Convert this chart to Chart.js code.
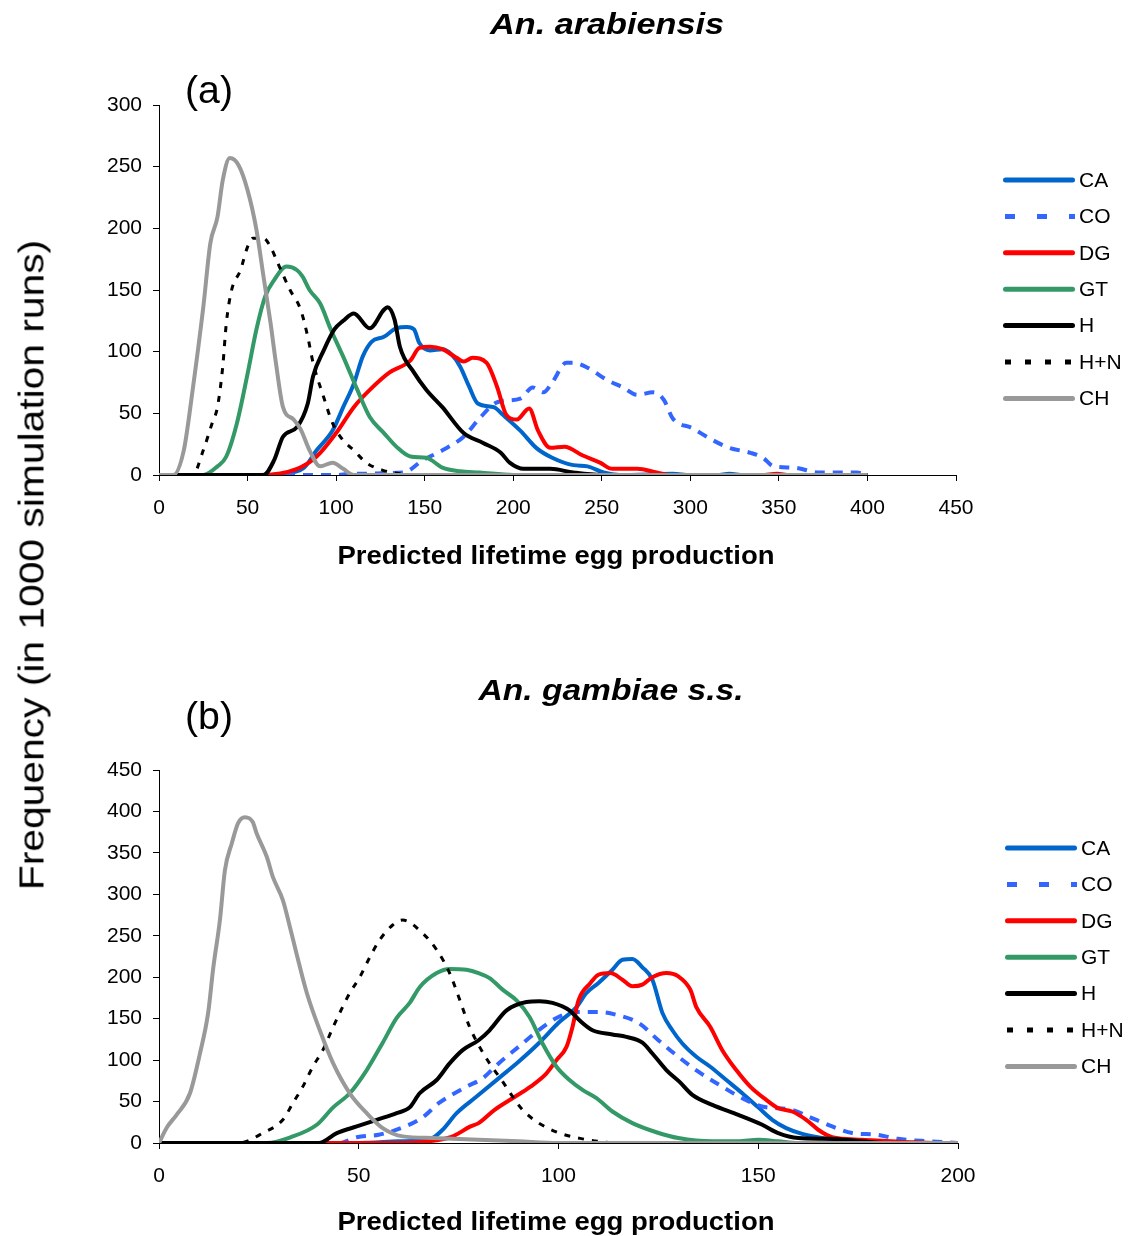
<!DOCTYPE html>
<html>
<head>
<meta charset="utf-8">
<script src="https://cdn.jsdelivr.net/npm/chart.js@4.4.1/dist/chart.umd.min.js"></script>
<style>
  html, body { margin: 0; padding: 0; background: #fff; }
  #wrap { position: relative; width: 1140px; height: 1236px; overflow: hidden; }
  canvas { position: absolute; left: 0; }
  #chartA { top: 0; }
  #chartB { top: 600px; }
  #yTitle {
    position: absolute; left: 31px; top: 565px;
    font: 35px 'Liberation Sans', Arial, sans-serif;
    white-space: nowrap; line-height: 1;
  }
</style>
</head>
<body>
<div id="wrap">
  <canvas id="chartA" width="1140" height="600"></canvas>
  <canvas id="chartB" width="1140" height="636"></canvas>
  <div id="yTitle">Frequency (in 1000 simulation runs)</div>
</div>
<script>
// series names, in legend order
const SERIES = ['CA', 'CO', 'DG', 'GT', 'H', 'H+N', 'CH'];

// tick labels
const X_TICKS_A = [0, 50, 100, 150, 200, 250, 300, 350, 400, 450];
const Y_TICKS_A = [0, 50, 100, 150, 200, 250, 300];
const X_TICKS_B = [0, 50, 100, 150, 200];
const Y_TICKS_B = [0, 50, 100, 150, 200, 250, 300, 350, 400, 450];

// (a) An. arabiensis : [lifetime eggs, frequency]
const arabCA = [[0,0],[60,0],[75,2],[82,6],[89,20],[98,36],[104,55],[110,74],[115,96],[120,108],[127,112],[134,119],[140,120],[144,118],[147,107],[153,101],[160,102],[165,98],[170,88],[175,72],[180,58],[189,55],[194,49],[204,36],[213,22],[222,14],[234,8],[242,7],[251,2],[260,0],[290,1],[300,0],[315,0],[322,1],[330,0],[400,0]];
const arabCO = [[0,0],[100,0],[108,1],[138,2],[149,12],[160,20],[172,31],[181,46],[191,59],[204,62],[211,71],[217,67],[222,75],[230,91],[234,91],[242,87],[253,77],[262,71],[270,65],[279,67],[285,61],[290,46],[301,38],[313,28],[322,22],[334,18],[341,14],[347,7],[358,6],[373,2],[394,2],[400,0]];
const arabDG = [[0,0],[57,0],[78,5],[89,15],[100,34],[110,55],[119,69],[130,83],[142,93],[147,103],[153,104],[160,102],[168,95],[172,92],[177,95],[185,91],[191,71],[196,49],[202,45],[209,54],[214,36],[221,22],[229,23],[239,16],[249,10],[256,5],[270,5],[281,2],[288,0],[340,0],[349,1],[356,0],[400,0]];
const arabGT = [[0,0],[25,0],[33,7],[38,15],[44,42],[50,82],[55,118],[60,145],[65,158],[72,169],[78,166],[81,161],[85,150],[91,139],[97,118],[104,96],[112,69],[119,47],[127,34],[134,23],[142,15],[151,14],[160,6],[170,3],[181,2],[200,0],[400,0]];
const arabH  = [[0,0],[59,0],[65,12],[70,31],[78,39],[84,58],[87,80],[93,101],[99,118],[104,125],[110,131],[119,119],[127,134],[129,136],[133,126],[136,104],[144,83],[151,69],[160,55],[172,34],[183,26],[193,18],[198,10],[206,5],[221,5],[234,2],[250,0],[400,0]];
const arabHN = [[0,0],[19,0],[25,20],[30,42],[33,55],[36,88],[38,123],[41,150],[46,166],[50,185],[53,192],[59,192],[63,185],[67,172],[74,150],[80,134],[84,112],[87,91],[93,63],[98,42],[104,28],[110,20],[117,10],[126,4],[136,1],[145,0],[400,0]];
const arabCH = [[0,0],[8,0],[14,20],[19,69],[25,136],[29,188],[33,209],[36,239],[40,257],[45,251],[50,231],[55,199],[59,161],[63,123],[66,91],[70,55],[76,45],[80,37],[85,20],[91,7],[98,10],[104,5],[110,0],[400,0]];

// (b) An. gambiae s.s.
const gambCA = [[0,0],[50,0],[60,2],[68,5],[71,16],[74.5,36],[79.5,56],[85,78],[90,98],[95,120],[100,145],[104.5,164],[107,181],[110,193],[113.5,209],[116,221],[118.5,222],[121,212],[123.5,197],[126,157],[128.5,136],[131,120],[134.5,104],[138,92],[142,76],[146,60],[150,43],[153.5,28],[157,18],[161,11],[166,6],[173,2],[180,0],[200,0]];
const gambCO = [[0,0],[45,0],[49.5,7],[55,10],[59.5,16],[66,31],[70,48],[77,68],[81,78],[85,96],[90,116],[95,136],[100,152],[105,158],[110,158],[115,154],[120,145],[125,124],[130,104],[135,86],[141,68],[146,54],[151,44],[158.5,40],[163,31],[168.5,20],[173.5,12],[179.5,10],[185,5],[193,2],[200,0]];
const gambDG = [[0,0],[60,0],[65,1],[73,7],[78,20],[80,24],[84,40],[88.5,54],[93,68],[97,84],[99.5,100],[102,116],[103.5,140],[105,172],[108,193],[110,203],[113,205],[116,197],[118.5,189],[121,191],[123.5,200],[127,205],[130,201],[133,185],[134.5,164],[138,140],[141,112],[144.5,88],[148,68],[152,52],[155,42],[158.5,38],[162,28],[165,16],[168.5,7],[176,4],[188,1],[195,0],[200,0]];
const gambGT = [[0,0],[27,0],[33,7],[39.5,22],[43.6,43],[47.75,60],[52,88],[56,121],[59.5,151],[62.75,169],[65.25,188],[69.5,205],[72.75,210],[77,209],[80,205],[82.75,199],[86,185],[89.5,172],[92.75,152],[96,120],[99.5,92],[102.75,76],[106,64],[109.5,54],[113.5,38],[118.5,24],[124.5,13],[130,6],[138.5,2],[145,2],[150,4],[155,2],[160,0],[200,0]];
const gambH  = [[0,0],[40,0],[44.5,12],[49.5,20],[54.5,28],[59.5,36],[62.75,43],[65.25,60],[69.5,76],[72.75,96],[76,112],[80,124],[82.75,136],[87,160],[92,170],[95.25,171],[98.5,169],[102.75,160],[105.25,148],[108.5,136],[113.5,131],[117,128],[121,121],[123.5,108],[127,88],[130.25,74],[133.5,58],[138.5,46],[145,34],[151,22],[155,12],[160,6],[168,5],[176,2],[182,0],[200,0]];
const gambHN = [[0,0],[20,0],[26,12],[31,28],[33.5,48],[36,68],[38.5,92],[41,112],[43.6,140],[45.25,157],[47.75,181],[50.25,200],[52.75,224],[55.25,245],[58.5,263],[61,269],[66,253],[69.5,233],[72.75,205],[75.25,173],[77.75,140],[80.25,116],[82.75,96],[85.75,76],[88.5,56],[91,40],[94.75,25],[100.25,12],[106,5],[110,2],[115,0],[200,0]];
const gambCH = [[0,0],[2,19],[4.4,34],[7.75,60],[10.25,108],[12.3,157],[13.6,212],[15.25,269],[16.5,329],[18.25,362],[19.8,386],[21.5,393],[23.5,387],[24.4,374],[27,345],[28.5,321],[31,293],[32.75,261],[34.4,229],[37,181],[40.25,136],[43.6,96],[47.75,60],[52,36],[56,18],[61,8],[68.5,6],[80,4],[90,2],[100,0],[200,0]];

const STYLES = {
  'CA':  { color: '#0066CC', width: 4 },
  'CO':  { color: '#3366FF', width: 4, dash: [10, 8], legendDash: [10, 22] },
  'DG':  { color: '#FF0000', width: 4 },
  'GT':  { color: '#339966', width: 4 },
  'H':   { color: '#000000', width: 4 },
  'H+N': { color: '#000000', width: 3, dash: [6, 8], legendDash: [6, 14] },
  'CH':  { color: '#999999', width: 4 },
};

const FONT = "'Liberation Sans', Arial, sans-serif";

function stretchText(ctx, text, cx, cy, font, width) {
  ctx.save();
  ctx.font = font;
  const w = ctx.measureText(text).width;
  ctx.translate(cx, cy);
  ctx.scale(width / w, 1);
  ctx.textAlign = 'center';
  ctx.textBaseline = 'middle';
  ctx.fillStyle = '#000';
  ctx.fillText(text, 0, 0);
  ctx.restore();
}

const decorPlugin = {
  id: 'decor',
  afterDraw(chart, args, o) {
    const ctx = chart.ctx;
    stretchText(ctx, o.title, o.titleX, o.titleY, 'italic bold 29px ' + FONT, o.titleW);
    stretchText(ctx, o.tag, 209, o.tagY, '38px ' + FONT, 48);
    stretchText(ctx, 'Predicted lifetime egg production', 556, o.xTitleY, 'bold 25px ' + FONT, 437);

    SERIES.forEach((name, i) => {
      const st = STYLES[name];
      const y = o.legY + i * 36.4;
      ctx.save();
      ctx.strokeStyle = st.color;
      ctx.lineWidth = 5;
      ctx.lineCap = st.legendDash ? 'butt' : 'round';
      ctx.setLineDash(st.legendDash || []);
      ctx.beginPath();
      ctx.moveTo(o.legX + (st.legendDash ? 2 : 2.5), y);
      ctx.lineTo(o.legX + (st.legendDash ? 72 : 69.5), y);
      ctx.stroke();
      ctx.setLineDash([]);
      ctx.font = '21px ' + FONT;
      ctx.fillStyle = '#000';
      ctx.textBaseline = 'middle';
      ctx.fillText(name, o.legX + 76, y + 1);
      ctx.restore();
    });
  }
};

function makeChart(id, series, xTicks, yTicks, geom, decor) {
  const datasets = series.map((pts, i) => {
    const st = STYLES[SERIES[i]];
    return {
      label: SERIES[i],
      data: pts.map(p => ({ x: p[0], y: p[1] })),
      borderColor: st.color,
      borderWidth: st.width,
      borderDash: st.dash || [],
      pointRadius: 0,
      fill: false,
      cubicInterpolationMode: 'monotone',
      order: SERIES.length - i,
    };
  });

  const tickFont = { family: FONT, size: 21 };

  return new Chart(document.getElementById(id), {
    type: 'line',
    data: { datasets },
    plugins: [decorPlugin],
    options: {
      responsive: false,
      animation: false,
      devicePixelRatio: 1,
      events: [],
      layout: { padding: { top: geom.top, right: geom.right, left: 0, bottom: 0 } },
      plugins: {
        legend: { display: false },
        tooltip: { enabled: false },
        decor,
      },
      scales: {
        x: {
          type: 'linear',
          min: xTicks[0],
          max: xTicks[xTicks.length - 1],
          afterBuildTicks: s => { s.ticks = xTicks.map(v => ({ value: v })); },
          afterFit: s => { s.height = geom.xHeight; },
          ticks: { font: tickFont, color: '#000', padding: 15, maxRotation: 0, autoSkip: false },
          grid: { drawOnChartArea: false, drawTicks: true, tickLength: 6, color: '#000' },
          border: { color: '#000', width: 1 },
        },
        y: {
          min: yTicks[0],
          max: yTicks[yTicks.length - 1],
          afterBuildTicks: s => { s.ticks = yTicks.map(v => ({ value: v })); },
          afterFit: s => { s.width = 159; },
          ticks: { font: tickFont, color: '#000', padding: 11 },
          grid: { drawOnChartArea: false, drawTicks: true, tickLength: 6, color: '#000' },
          border: { color: '#000', width: 1 },
        },
      },
    },
  });
}

makeChart('chartA',
  [arabCA, arabCO, arabDG, arabGT, arabH, arabHN, arabCH],
  X_TICKS_A, Y_TICKS_A,
  { top: 105, right: 184, xHeight: 125 },
  { title: 'An. arabiensis', titleX: 607, titleY: 26, titleW: 234,
    tag: '(a)', tagY: 93, xTitleY: 557, legX: 1003, legY: 180 });

makeChart('chartB',
  [gambCA, gambCO, gambDG, gambGT, gambH, gambHN, gambCH],
  X_TICKS_B, Y_TICKS_B,
  { top: 170, right: 182, xHeight: 93 },
  { title: 'An. gambiae s.s.', titleX: 611, titleY: 92, titleW: 265,
    tag: '(b)', tagY: 119, xTitleY: 623, legX: 1005, legY: 248 });

// vertical axis title shared by both panels, stretched to the reference length
const yTitle = document.getElementById('yTitle');
const sx = 650 / yTitle.offsetWidth;
yTitle.style.transform = 'translate(-50%, -50%) rotate(-90deg) scaleX(' + sx + ')';
</script>
</body>
</html>
